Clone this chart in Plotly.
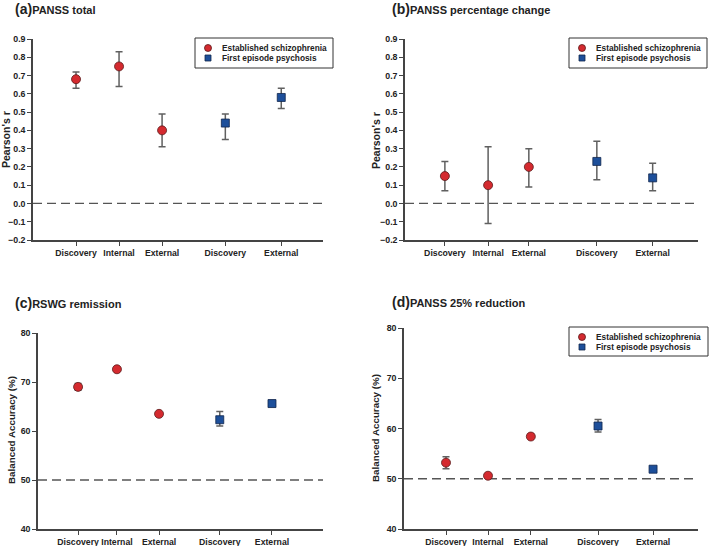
import plotly.graph_objects as go

W, H = 709, 546

categories_es = ["Discovery", "Internal", "External"]
categories_fep = ["Discovery", "External"]
series_names = ["Established schizophrenia", "First episode psychosis"]

# Panel (a) PANSS total - Pearson's r
a_es = [0.68, 0.75, 0.40]
a_es_lo = [0.63, 0.64, 0.31]
a_es_hi = [0.72, 0.83, 0.49]
a_fep = [0.44, 0.58]
a_fep_lo = [0.35, 0.52]
a_fep_hi = [0.49, 0.63]

# Panel (b) PANSS percentage change - Pearson's r
b_es = [0.15, 0.10, 0.20]
b_es_lo = [0.07, -0.11, 0.09]
b_es_hi = [0.23, 0.31, 0.30]
b_fep = [0.23, 0.14]
b_fep_lo = [0.13, 0.07]
b_fep_hi = [0.34, 0.22]

# Panel (c) RSWG remission - balanced accuracy (%)
c_es = [69.0, 72.6, 63.5]
c_es_lo = [68.3, 72.4, 63.3]
c_es_hi = [69.7, 72.8, 63.7]
c_fep = [62.3, 65.6]
c_fep_lo = [61.0, 65.0]
c_fep_hi = [64.0, 66.2]

# Panel (d) PANSS 25% reduction - balanced accuracy (%)
d_es = [53.2, 50.6, 58.4]
d_es_lo = [52.0, 50.4, 58.2]
d_es_hi = [54.4, 50.8, 58.6]
d_fep = [60.5, 51.9]
d_fep_lo = [59.3, 51.7]
d_fep_hi = [61.8, 52.1]

r_ticks = [-0.2, -0.1, 0.0, 0.1, 0.2, 0.3, 0.4, 0.5, 0.6, 0.7, 0.8, 0.9]
acc_ticks = [40, 50, 60, 70, 80]

RED = "#d42a2f"
BLUE = "#1d4f9a"
ERR = "#606060"
AXC = "#444444"
TXT = "#222222"
FONT = "Liberation Sans"

# layout: per-panel pixel boxes (left, right, top, bottom) and category slot positions
panels = [
    dict(name="a", title="PANSS total", box=(33, 323, 39, 240), pos=[1, 2, 3, 4.47, 5.77], xmax=6.74,
         es=(a_es, a_es_lo, a_es_hi), fep=(a_fep, a_fep_lo, a_fep_hi),
         yr=[-0.2, 0.9], ticks=r_ticks, fmt="r", ytitle="Pearson's r", ytsize=10.5, ytx=6, yty=140, ref=0.0,
         leg=(195, 333, 38, 68), tpos=(13, 9)),
    dict(name="b", title="PANSS percentage change", box=(405, 698, 39, 240), pos=[0.95, 1.98, 2.95, 4.57, 5.9], xmax=6.98,
         es=(b_es, b_es_lo, b_es_hi), fep=(b_fep, b_fep_lo, b_fep_hi),
         yr=[-0.2, 0.9], ticks=r_ticks, fmt="r", ytitle="Pearson's r", ytsize=10.5, ytx=376, yty=140, ref=0.0,
         leg=(569, 707, 38, 68), tpos=(390, 9)),
    dict(name="c", title="RSWG remission", box=(38, 323, 333, 529), pos=[0.99, 1.95, 2.99, 4.49, 5.78], xmax=7.04,
         es=(c_es, c_es_lo, c_es_hi), fep=(c_fep, c_fep_lo, c_fep_hi),
         yr=[40, 80], ticks=acc_ticks, fmt="acc", ytitle="Balanced Accuracy (%)", ytsize=9.8, ytx=11, yty=430, ref=50,
         leg=None, tpos=(13, 303)),
    dict(name="d", title="PANSS 25% reduction", box=(404, 698, 328, 529), pos=[1, 2, 3.02, 4.62, 5.93], xmax=7.0,
         es=(d_es, d_es_lo, d_es_hi), fep=(d_fep, d_fep_lo, d_fep_hi),
         yr=[40, 80], ticks=acc_ticks, fmt="acc", ytitle="Balanced Accuracy (%)", ytsize=9.8, ytx=375, yty=428, ref=50,
         leg=(569, 708, 327, 356), tpos=(390, 302)),
]

fig = go.Figure()
layout = dict(width=W, height=H, margin=dict(l=0, r=0, t=0, b=0, autoexpand=False),
              paper_bgcolor="white", plot_bgcolor="white",
              font=dict(family=FONT, color=TXT), showlegend=False)
annotations = []
shapes = []

def ticktext(v, fmt):
    if fmt == "r":
        s = f"{abs(v):.1f}"
        return ("\u2212" + s) if v < 0 else s
    return str(v)

def px(x):
    return x / W

def py(y):
    return 1 - y / H

for i, p in enumerate(panels):
    k = "" if i == 0 else str(i + 1)
    xa, ya = "x" + k, "y" + k
    l, r, t, b = p["box"]
    layout["xaxis" + k] = dict(
        domain=[px(l), px(r)], range=[0, p["xmax"]], anchor=ya,
        tickvals=p["pos"], ticktext=categories_es + categories_fep, tickangle=0, automargin=False,
        ticks="outside", ticklen=4, tickcolor=AXC, tickwidth=1,
        showline=True, linecolor=AXC, linewidth=1.5, showgrid=False, zeroline=False,
        tickfont=dict(family=FONT, size=8.7, color=TXT, weight="bold"), fixedrange=True)
    layout["yaxis" + k] = dict(
        domain=[py(b), py(t)], range=p["yr"], anchor=xa, automargin=False,
        tickvals=p["ticks"], ticktext=[ticktext(v, p["fmt"]) for v in p["ticks"]],
        ticks="outside", ticklen=4, tickcolor=AXC, tickwidth=1,
        showline=True, linecolor=AXC, linewidth=1.5, showgrid=False, zeroline=False,
        tickfont=dict(family=FONT, size=8.8, color=TXT, weight="bold"),
        fixedrange=True)

    # y-axis title
    annotations.append(dict(xref="paper", yref="paper", x=px(p["ytx"]), y=py(p["yty"]),
                            xanchor="center", yanchor="middle", textangle=-90, showarrow=False,
                            text="<b>" + p["ytitle"] + "</b>",
                            font=dict(family=FONT, size=p["ytsize"], color=TXT)))

    # reference dashed line
    shapes.append(dict(type="line", xref=xa + " domain", yref=ya, x0=0, x1=1, y0=p["ref"], y1=p["ref"],
                       line=dict(color="#555555", width=1.3, dash="9px,5px"), layer="below"))

    es_v, es_lo, es_hi = p["es"]
    fep_v, fep_lo, fep_hi = p["fep"]
    common = dict(xaxis=xa, yaxis=ya, mode="markers", hoverinfo="skip", showlegend=False)
    fig.add_trace(go.Scatter(
        x=p["pos"][:3], y=es_v, name=series_names[0],
        error_y=dict(type="data", symmetric=False,
                     array=[h - v for h, v in zip(es_hi, es_v)],
                     arrayminus=[v - lo for v, lo in zip(es_v, es_lo)],
                     color=ERR, thickness=1.5, width=3.5),
        marker=dict(symbol="circle", size=9, color=RED, line=dict(color="#5a1a1a", width=0.8)),
        **common))
    fig.add_trace(go.Scatter(
        x=p["pos"][3:], y=fep_v, name=series_names[1],
        error_y=dict(type="data", symmetric=False,
                     array=[h - v for h, v in zip(fep_hi, fep_v)],
                     arrayminus=[v - lo for v, lo in zip(fep_v, fep_lo)],
                     color=ERR, thickness=1.5, width=3.5),
        marker=dict(symbol="square", size=8, color=BLUE, line=dict(color="#10264d", width=0.8)),
        **common))

    # legend box (drawn)
    if p["leg"]:
        lx0, lx1, ly0, ly1 = p["leg"]
        shapes.append(dict(type="rect", xref="paper", yref="paper", x0=px(lx0), x1=px(lx1),
                           y0=py(ly1), y1=py(ly0), line=dict(color="#333333", width=1), fillcolor="white"))
        row1 = ly0 + 10
        row2 = ly0 + 20
        sx = lx0 + 13
        shapes.append(dict(type="circle", xref="paper", yref="paper", x0=px(sx - 3.5), x1=px(sx + 3.5),
                           y0=py(row1 + 3.5), y1=py(row1 - 3.5), fillcolor=RED,
                           line=dict(color="#5a1a1a", width=0.8)))
        shapes.append(dict(type="rect", xref="paper", yref="paper", x0=px(sx - 3), x1=px(sx + 3),
                           y0=py(row2 + 3), y1=py(row2 - 3), fillcolor=BLUE,
                           line=dict(color="#10264d", width=0.8)))
        for name, row in zip(series_names, [row1, row2]):
            annotations.append(dict(xref="paper", yref="paper", x=px(lx0 + 25), y=py(row),
                                    xanchor="left", yanchor="middle", showarrow=False,
                                    text="<b>" + name + "</b>",
                                    font=dict(family=FONT, size=8.3, color=TXT)))

    # panel title
    tx, ty = p["tpos"]
    annotations.append(dict(
        xref="paper", yref="paper", x=px(tx), y=py(ty), xanchor="left", yanchor="middle",
        showarrow=False,
        text="<b><span style='font-size:14px'>(" + p["name"] + ")</span>" + p["title"] + "</b>",
        font=dict(family=FONT, size=11, color=TXT)))

layout["annotations"] = annotations
layout["shapes"] = shapes
fig.update_layout(**layout)
fig.write_html("out.html")
